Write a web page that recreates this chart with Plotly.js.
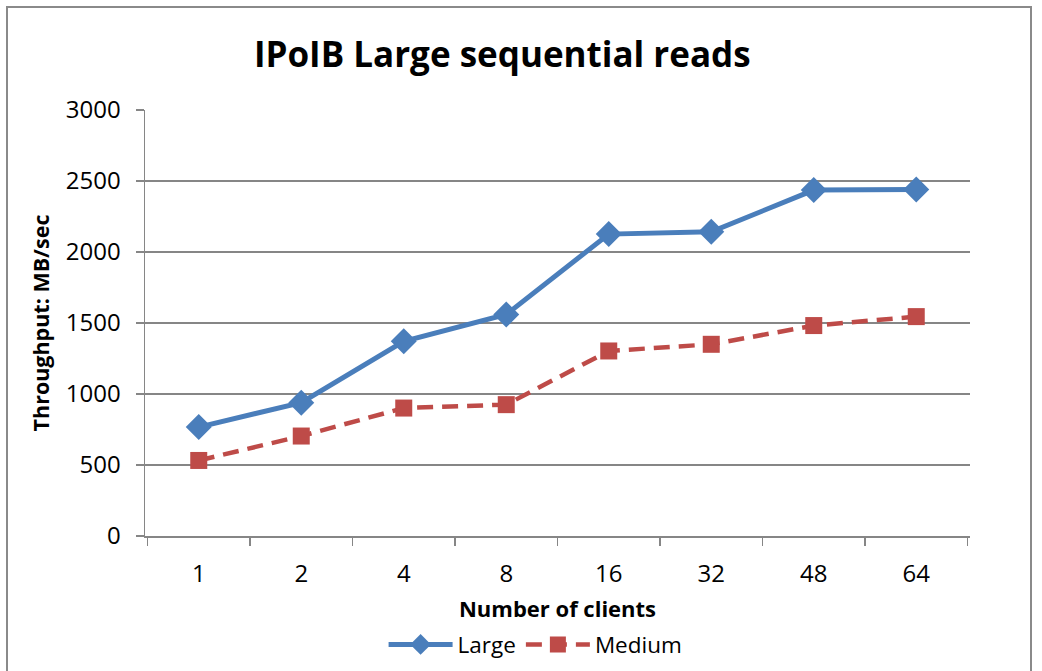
<!DOCTYPE html>
<html>
<head>
<meta charset="utf-8">
<script src="https://cdn.plot.ly/plotly-3.0.1.min.js"></script>
<style>
  html, body { margin: 0; padding: 0; background: #fff; overflow: hidden; }
  #frame { position: absolute; left: 6px; top: 6px; width: 1026px; height: 720px; border: 2px solid #8a8a8a; box-sizing: border-box; }
  #chart { position: absolute; left: 0; top: 0; width: 1042px; height: 671px; }
</style>
</head>
<body>
<div id="chart"></div>
<div id="frame"></div>
<script>
const categories = ["1", "2", "4", "8", "16", "32", "48", "64"];
const largeValues = [767, 939, 1371, 1560, 2126, 2142, 2436, 2440];
const mediumValues = [532, 704, 901, 925, 1303, 1350, 1482, 1545];
const yTicks = [0, 500, 1000, 1500, 2000, 2500, 3000];

const FONT = "'Open Sans', sans-serif";

const traces = [
  {
    x: categories, y: largeValues, name: "Large", type: "scatter", mode: "lines+markers",
    line: { color: "#4a7ebb", width: 5 },
    marker: { symbol: "diamond", size: 20, color: "#4a7ebb" }
  },
  {
    x: categories, y: mediumValues, name: "Medium", type: "scatter", mode: "lines+markers",
    line: { color: "#be4b48", width: 4.5, dash: "16px,9px" },
    marker: { symbol: "square", size: 17, color: "#be4b48" }
  }
];

const layout = {
  width: 1042, height: 671,
  margin: { l: 145, r: 72, t: 110, b: 135 },
  paper_bgcolor: "#ffffff", plot_bgcolor: "#ffffff",
  font: { family: FONT, color: "#000000", size: 22 },
  title: {
    text: "<b>IPoIB Large sequential reads</b>",
    font: { family: FONT, size: 35, color: "#000" },
    x: 0.482, xanchor: "center", xref: "container",
    y: 60, yref: "container", yanchor: "middle"
  },
  xaxis: {
    type: "category",
    tickson: "boundaries",
    ticks: "outside", ticklen: 8, tickcolor: "#868686", tickwidth: 1.5,
    showline: true, linecolor: "#868686", linewidth: 1.5,
    showgrid: false, zeroline: false,
    tickfont: { family: FONT, size: 24 },
    ticklabelstandoff: 16,
    automargin: false,
    title: { text: "<b>Number of clients</b>", font: { family: FONT, size: 22 }, standoff: 18 }
  },
  yaxis: {
    range: [0, 3000],
    tickvals: yTicks,
    ticks: "outside", ticklen: 8, tickcolor: "#868686", tickwidth: 1.5,
    showline: true, linecolor: "#868686", linewidth: 1.5,
    showgrid: true, gridcolor: "#868686", gridwidth: 1.5,
    zeroline: false,
    automargin: false,
    tickfont: { family: FONT, size: 24 },
    ticklabelstandoff: 10,
    title: { text: "<b>Throughput: MB/sec</b>", font: { family: FONT, size: 21.5 }, standoff: 10 }
  },
  showlegend: true,
  legend: {
    orientation: "h", xref: "container", yref: "container",
    x: 0.514, xanchor: "center", y: 0.039, yanchor: "middle",
    itemwidth: 64,
    font: { family: FONT, size: 22.5 }
  }
};

Plotly.newPlot("chart", traces, layout, { displayModeBar: false, staticPlot: true });
</script>
</body>
</html>
